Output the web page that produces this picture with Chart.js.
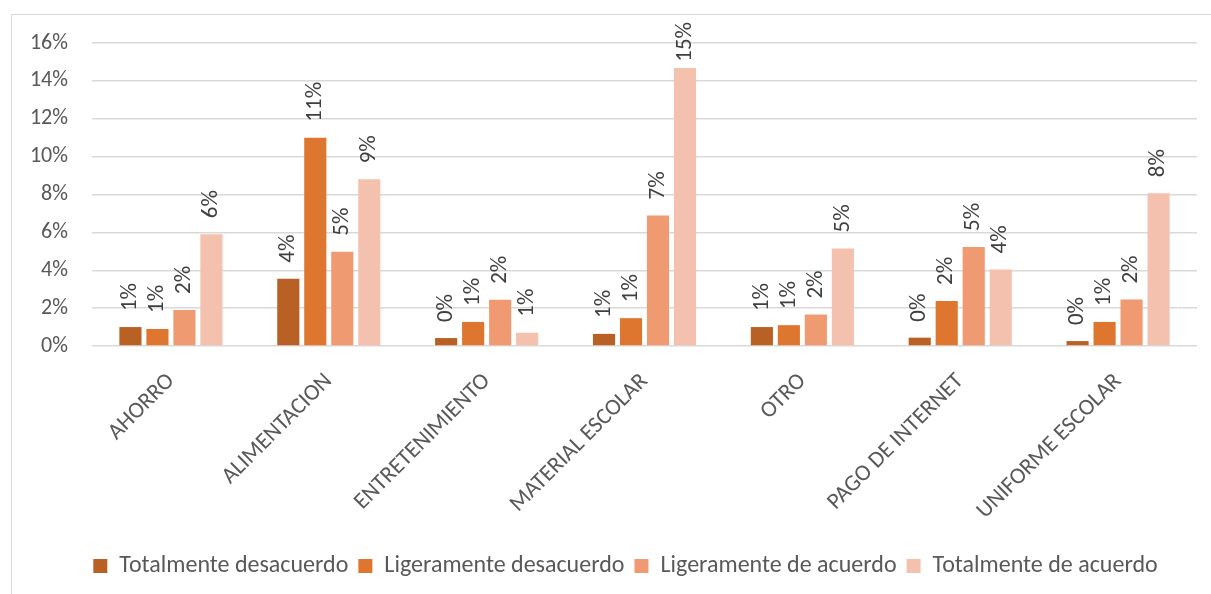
<!DOCTYPE html>
<html>
<head>
<meta charset="utf-8">
<script src="https://cdn.jsdelivr.net/npm/chart.js@4.4.0/dist/chart.umd.min.js"></script>
<style>
  html, body { margin: 0; padding: 0; background: #ffffff; }
  #frame { position: absolute; left: 11px; top: 14px; width: 1300px; height: 700px;
           border-left: 1.5px solid #d9d9d9; border-top: 1.5px solid #d9d9d9; }
  #wrap { position: absolute; left: 0; top: 0; width: 1211px; height: 594px; }
</style>
</head>
<body>
<div id="frame"></div>
<div id="wrap"><canvas id="c" width="1211" height="594"></canvas></div>
<script>
const categories = ["AHORRO", "ALIMENTACION", "ENTRETENIMIENTO", "MATERIAL ESCOLAR", "OTRO", "PAGO DE INTERNET", "UNIFORME ESCOLAR"];
const seriesNames = ["Totalmente desacuerdo", "Ligeramente desacuerdo", "Ligeramente de acuerdo", "Totalmente de acuerdo"];
const totalmenteDesacuerdo = [1.0, 3.55, 0.42, 0.64, 1.0, 0.44, 0.26];
const ligeramenteDesacuerdo = [0.9, 11.0, 1.27, 1.47, 1.1, 2.38, 1.27];
const ligeramenteDeAcuerdo = [1.9, 4.98, 2.44, 6.89, 1.66, 5.23, 2.45];
const totalmenteDeAcuerdo = [5.9, 8.8, 0.7, 14.68, 5.15, 4.04, 8.07];
const yTicks = [0, 2, 4, 6, 8, 10, 12, 14, 16];

const colors = ["#b96024", "#de762f", "#f09a71", "#f5c1af"];
const FONT = "Carlito, Lato, 'Open Sans', sans-serif";

const valueLabels = {
  id: 'valueLabels',
  afterLayout(chart) {
    const l = chart.legend;
    if (l) { l.left += 27; l.right += 27; }
  },
  afterDatasetsDraw(chart) {
    const ctx = chart.ctx;
    ctx.save();
    ctx.fillStyle = '#404040';
    ctx.font = '23px ' + FONT;
    ctx.textAlign = 'left';
    ctx.textBaseline = 'middle';
    chart.data.datasets.forEach((ds, di) => {
      const meta = chart.getDatasetMeta(di);
      meta.data.forEach((el, i) => {
        const txt = Math.round(ds.data[i]) + '%';
        const w = ctx.measureText(txt).width;
        let start = el.y - 16;
        if (start - w < 22) start = 22 + w;
        ctx.save();
        ctx.translate(el.x, start);
        ctx.rotate(-Math.PI / 2);
        ctx.fillText(txt, 0, 0);
        ctx.restore();
      });
    });
    ctx.restore();
  }
};

new Chart(document.getElementById('c'), {
  type: 'bar',
  data: {
    labels: categories,
    datasets: [
      { label: seriesNames[0], data: totalmenteDesacuerdo, backgroundColor: colors[0] },
      { label: seriesNames[1], data: ligeramenteDesacuerdo, backgroundColor: colors[1] },
      { label: seriesNames[2], data: ligeramenteDeAcuerdo, backgroundColor: colors[2] },
      { label: seriesNames[3], data: totalmenteDeAcuerdo, backgroundColor: colors[3] }
    ]
  },
  options: {
    responsive: false,
    animation: false,
    devicePixelRatio: 1,
    layout: { padding: { left: 0, right: 14, top: 43, bottom: 6 } },
    datasets: { bar: { categoryPercentage: 0.684, barPercentage: 0.82, borderWidth: 0 } },
    plugins: {
      tooltip: { enabled: false },
      legend: {
        position: 'bottom',
        labels: {
          font: { family: FONT, size: 24 },
          color: '#595959',
          boxWidth: 14,
          boxHeight: 14,
          padding: 10
        }
      }
    },
    scales: {
      x: {
        grid: { display: false, drawTicks: false },
        border: { display: false },
        ticks: {
          autoSkip: false,
          minRotation: 45,
          maxRotation: 45,
          padding: 22,
          color: '#595959',
          font: { family: FONT, size: 23 }
        },
        afterFit(scale) { scale.height = 198; }
      },
      y: {
        min: 0,
        max: 16,
        afterBuildTicks(scale) { scale.ticks = yTicks.map(v => ({ value: v })); },
        grid: { color: '#d9d9d9', lineWidth: 1.5, drawTicks: false },
        border: { display: false },
        ticks: {
          padding: 24,
          color: '#595959',
          font: { family: FONT, size: 22 },
          callback: (v) => v + '%'
        },
        afterFit(scale) { scale.width = 92; }
      }
    }
  },
  plugins: [valueLabels]
});
</script>
</body>
</html>
